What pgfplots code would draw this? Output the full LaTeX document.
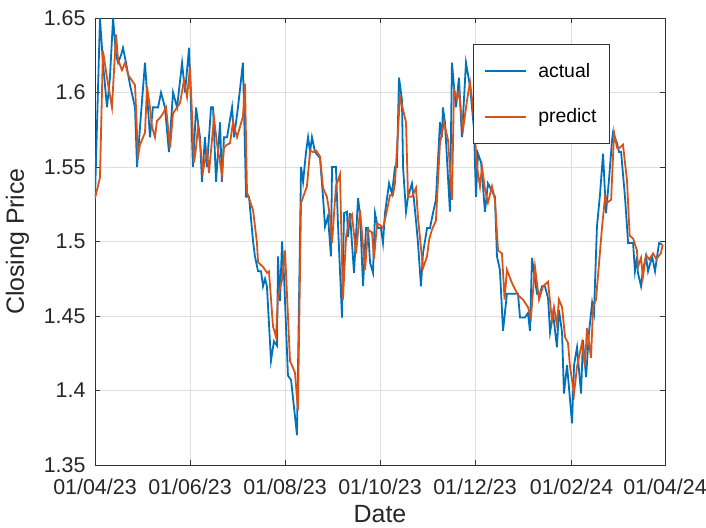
\documentclass[border=0pt]{standalone}
\usepackage{fontspec}
\setmainfont{Liberation Sans}
\usepackage{pgfplots}
\pgfplotsset{compat=1.18}
\definecolor{mblue}{rgb}{0,0.447,0.741}
\definecolor{morange}{rgb}{0.85,0.325,0.098}
\begin{document}
\begin{tikzpicture}
\begin{axis}[
  scale only axis,
  width=570bp, height=447bp,
  xmin=0, xmax=366, ymin=1.35, ymax=1.65,
  xtick={0,61,122,183,244,306,366},
  xticklabels={01/04/23,01/06/23,01/08/23,01/10/23,01/12/23,01/02/24,01/04/24},
  ytick={1.35,1.4,1.45,1.5,1.55,1.6,1.65},
  /pgf/number format/assume math mode=true,
  yticklabel style={/pgf/number format/fixed},
  tick label style={font=\fontsize{21.5}{24}\selectfont, text=black!85},
  label style={font=\fontsize{25}{28}\selectfont, text=black!85},
  xlabel={Date}, ylabel={Closing Price},
  grid=major,
  major grid style={draw=black!13, line width=0.6bp},
  axis line style={draw=black!80, line width=0.8bp},
  major tick length=5bp,
  tick style={draw=black!80, line width=0.8bp},
  tick pos=both,
  xticklabel style={yshift=-10bp},
  yticklabel style={xshift=-6bp},
  xlabel shift=4bp,
  ylabel shift=8bp,
  legend style={at={(0.9035,0.942)}, anchor=north east, draw=black!80, line width=0.8bp,
    font=\fontsize{19.5}{21}\selectfont, inner xsep=11bp, inner ysep=17bp, row sep=26bp,
    /tikz/every odd column/.append style={column sep=9bp}},
  legend cell align=left,
  legend image code/.code={\draw[#1, line width=1.8bp] (0bp,0bp) -- (41bp,0bp);},
]
\addplot[mblue, line width=1.8bp] coordinates {
(0,1.53)(3.2,1.65)(5.1,1.62)(7.7,1.59)(9.6,1.61)(11.6,1.65)(13.5,1.625)(14.8,1.62)(16.7,1.625)(18.0,1.63)
(19.9,1.62)(22.5,1.605)(25.7,1.59)(27.0,1.55)(29.5,1.585)(32.1,1.62)(34.0,1.59)(35.3,1.57)(37.2,1.59)(39.2,1.59)
(40.5,1.59)(42.4,1.60)(44.9,1.59)(47.5,1.56)(50.1,1.60)(52.7,1.59)(55.9,1.62)(57.8,1.60)(60.4,1.63)(62.9,1.55)
(64.9,1.59)(67.4,1.57)(68.7,1.54)(70.6,1.57)(71.9,1.55)(74.5,1.59)(75.8,1.59)(77.7,1.54)(80.3,1.58)(81.5,1.54)
(82.8,1.57)(84.8,1.57)(88.0,1.59)(89.3,1.57)(91.8,1.59)(95.0,1.62)(97.0,1.53)(98.9,1.53)(101.5,1.50)(102.7,1.49)
(104.7,1.48)(106.6,1.48)(107.9,1.47)(109.2,1.475)(110.4,1.47)(113.0,1.42)(114.9,1.433)(116.9,1.43)(117.5,1.49)(118.8,1.46)
(120.1,1.50)(121.4,1.476)(123.9,1.41)(125.9,1.407)(129.7,1.37)(132.3,1.55)(133.6,1.54)(135.5,1.56)(136.8,1.57)(138.1,1.56)
(139.3,1.57)(141.3,1.56)(144.5,1.556)(146.4,1.53)(147.7,1.51)(149.6,1.517)(151.5,1.49)(152.2,1.55)(154.7,1.55)(156.0,1.512)
(158.6,1.449)(159.9,1.519)(161.8,1.52)(162.5,1.503)(163.7,1.519)(166.3,1.479)(168.9,1.529)(170.2,1.518)(172.1,1.47)(174.0,1.509)
(175.3,1.509)(176.6,1.486)(178.5,1.479)(179.8,1.519)(181.7,1.509)(183.6,1.509)(184.9,1.499)(186.2,1.519)(188.8,1.539)(190.7,1.532)
(192.6,1.55)(193.9,1.55)(195.2,1.61)(197.1,1.595)(197.8,1.55)(199.7,1.52)(201.0,1.53)(203.5,1.539)(204.8,1.528)(206.1,1.514)
(207.4,1.499)(209.3,1.47)(210.6,1.492)(213.2,1.509)(215.1,1.509)(217.0,1.519)(218.9,1.528)(221.5,1.58)(222.8,1.57)(223.4,1.59)
(224.7,1.58)(227.9,1.52)(229.2,1.62)(230.5,1.604)(231.8,1.59)(233.7,1.61)(235.6,1.57)(238.2,1.62)(240.8,1.604)(243.4,1.575)
(244.6,1.53)(245.9,1.559)(247.9,1.553)(250.4,1.52)(252.3,1.539)(254.3,1.535)(256.8,1.53)(258.1,1.49)(260.0,1.481)(262.0,1.44)
(264.5,1.465)(266.5,1.465)(271.6,1.465)(272.9,1.449)(276.1,1.449)(278.0,1.452)(279.3,1.44)(280.6,1.489)(281.9,1.479)(283.8,1.465)
(285.7,1.465)(287.0,1.47)(288.9,1.47)(290.9,1.462)(292.2,1.439)(294.1,1.452)(296.6,1.429)(297.9,1.454)(299.9,1.439)(301.1,1.398)
(303.1,1.417)(306.3,1.378)(307.6,1.417)(309.5,1.429)(312.1,1.398)(313.3,1.434)(315.3,1.409)(317.2,1.439)(319.2,1.459)(320.4,1.452)
(322.3,1.51)(324.3,1.532)(326.2,1.559)(328.1,1.519)(330.0,1.541)(332.0,1.568)(332.6,1.573)(335.2,1.566)(336.5,1.56)(337.8,1.56)
(340.3,1.53)(342.3,1.499)(345.5,1.499)(346.7,1.48)(348.0,1.49)(348.6,1.479)(350.6,1.47)(351.8,1.481)(353.8,1.49)(355.1,1.48)
(357.7,1.49)(359.6,1.48)(360.9,1.49)(362.2,1.499)(364.1,1.498)
};
\addlegendentry{actual}
\addplot[morange, line width=1.8bp] coordinates {
(0,1.529)(3.2,1.543)(5.1,1.628)(7.7,1.61)(10.9,1.59)(13.5,1.639)(14.8,1.622)(17.3,1.615)(19.3,1.62)(21.2,1.612)
(25.7,1.605)(27.6,1.557)(28.9,1.565)(32.1,1.573)(33.4,1.604)(35.3,1.59)(36.6,1.577)(38.5,1.57)(39.8,1.581)(41.7,1.583)
(43.7,1.586)(45.6,1.59)(48.2,1.563)(50.1,1.586)(52.7,1.59)(54.6,1.593)(57.1,1.608)(59.1,1.597)(61.0,1.617)(63.6,1.553)
(64.9,1.563)(66.1,1.577)(67.4,1.566)(69.3,1.547)(71.9,1.561)(73.2,1.546)(76.4,1.583)(78.3,1.566)(81.5,1.545)(82.8,1.563)
(84.8,1.565)(86.7,1.566)(88.6,1.58)(91.2,1.57)(95.0,1.584)(96.3,1.606)(97.6,1.533)(101.5,1.521)(104.0,1.499)(104.7,1.486)
(107.9,1.483)(110.4,1.479)(111.7,1.48)(114.3,1.443)(116.2,1.436)(117.5,1.463)(120.1,1.474)(122.0,1.494)(125.2,1.42)(128.4,1.412)
(130.3,1.387)(132.3,1.526)(136.1,1.537)(138.1,1.561)(140.0,1.56)(141.9,1.561)(144.5,1.557)(146.4,1.536)(148.9,1.53)(150.9,1.517)
(152.2,1.499)(154.7,1.537)(157.3,1.545)(159.2,1.461)(161.2,1.503)(163.1,1.514)(165.0,1.518)(167.6,1.492)(170.2,1.521)(171.4,1.506)
(173.4,1.481)(175.3,1.508)(177.9,1.506)(179.1,1.488)(181.1,1.512)(183.0,1.511)(184.9,1.509)(187.5,1.521)(189.4,1.531)(191.3,1.531)
(192.6,1.539)(195.8,1.597)(199.7,1.58)(201.0,1.53)(203.5,1.53)(206.1,1.536)(207.4,1.516)(210.6,1.482)(213.2,1.49)(214.5,1.501)
(216.4,1.508)(218.9,1.514)(221.5,1.566)(224.1,1.58)(226.7,1.568)(229.2,1.528)(230.5,1.602)(232.4,1.596)(233.7,1.6)(236.3,1.575)
(238.9,1.595)(240.8,1.607)(242.7,1.59)(245.3,1.55)(247.2,1.537)(248.5,1.55)(250.4,1.535)(252.3,1.526)(254.9,1.537)(256.8,1.528)
(258.8,1.494)(261.3,1.492)(263.0,1.461)(264.5,1.481)(267.8,1.472)(271.6,1.464)(274.8,1.461)(278.0,1.456)(279.9,1.449)(282.5,1.483)
(285.1,1.461)(287.7,1.47)(290.9,1.473)(293.4,1.447)(294.7,1.456)(296.6,1.444)(297.9,1.461)(299.9,1.456)(301.8,1.436)(303.7,1.432)
(305.0,1.416)(307.6,1.398)(309.5,1.416)(312.7,1.432)(314.6,1.416)(315.9,1.442)(318.5,1.422)(319.8,1.456)(321.7,1.461)(325.6,1.51)
(327.5,1.53)(328.8,1.526)(331.4,1.528)(333.3,1.573)(335.2,1.563)(337.1,1.563)(339.0,1.565)(341.6,1.541)(343.3,1.504)(345.5,1.502)
(348.0,1.494)(348.6,1.483)(350.6,1.489)(351.8,1.476)(353.8,1.491)(355.9,1.488)(358.4,1.492)(360.5,1.488)(361.7,1.49)(363.3,1.492)
(364.6,1.498)
};
\addlegendentry{predict}
\end{axis}
\pgfresetboundingbox
\path ([shift={(-95bp,-63bp)}]current axis.south west) rectangle ([shift={(41bp,18bp)}]current axis.north east);
\end{tikzpicture}
\end{document}
